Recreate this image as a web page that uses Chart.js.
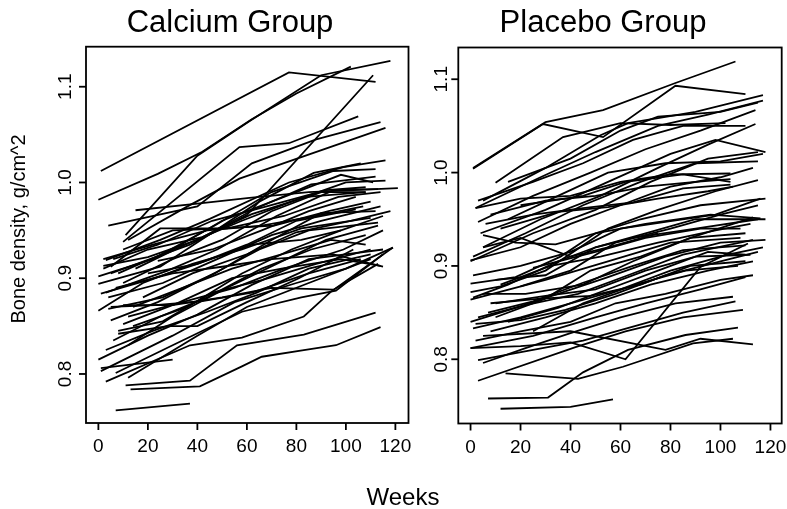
<!DOCTYPE html>
<html lang="en">
<head>
<meta charset="UTF-8" />
<title>Bone density, calcium vs placebo</title>
<script src="https://cdn.jsdelivr.net/npm/chart.js"></script>
<style>
  body { margin: 0; background: #fff; }
  #wrap { position: relative; width: 787px; height: 509px; overflow: hidden;
          font-family: "Liberation Sans", Arial, Helvetica, sans-serif; color: #000; }
  canvas { position: absolute; left: 0; top: 0; }
  .txt { position: absolute; white-space: nowrap; text-align: center; }
  .main { font-size: 31px; line-height: 31px; top: 6px; }
  #ylab { font-size: 20px; line-height: 20px; width: 300px; left: -132px; top: 219px;
          transform: rotate(-90deg); }
  #xlab { font-size: 24px; line-height: 24px; width: 200px; left: 303px; top: 485px; }
</style>
</head>
<body>
<div id="wrap">
  <canvas id="calcium" width="787" height="509"></canvas>
  <canvas id="placebo" width="787" height="509"></canvas>
  <div class="txt main" style="left:30px;width:400px">Calcium Group</div>
  <div class="txt main" style="left:403px;width:400px">Placebo Group</div>
  <div class="txt" id="ylab">Bone density, g/cm^2</div>
  <div class="txt" id="xlab">Weeks</div>
</div>

<script>
// tick labels
const weekTicks = [0, 20, 40, 60, 80, 100, 120];
const densityTicks = [0.8, 0.9, 1.0, 1.1];
const densityLabels = ["0.8", "0.9", "1.0", "1.1"];

// one row per subject: [week, bone density]
const calcium = [
  [[1,1.012],[77,1.115],[112,1.105]],
  [[0,0.982],[24,1.009],[42,1.032],[62,1.066],[80,1.093],[102,1.121]],
  [[11,0.945],[40,1.028],[61,1.064],[90,1.112],[118,1.127]],
  [[5,0.905],[37,0.935],[60,0.966],[111,1.112]],
  [[10,0.938],[57,1.037],[77,1.041],[105,1.069]],
  [[4,0.955],[40,0.975],[62,1.02],[88,1.045],[114,1.063]],
  [[15,0.971],[40,0.978],[61,0.984],[85,0.99],[121,0.994]],
  [[12,0.94],[36,0.975],[57,1.004],[116,1.057]],
  [[3,0.919],[25,0.94],[45,0.962],[77,1.0],[99,1.016],[116,1.023]],
  [[0,0.902],[22,0.92],[47,0.955],[70,0.99],[95,1.012],[112,1.014]],
  [[2,0.913],[20,0.922],[40,0.94],[63,0.972],[86,0.998],[112,1.006]],
  [[8,0.905],[30,0.93],[50,0.96],[75,0.985],[98,1.008],[111,1.0]],
  [[0,0.894],[25,0.912],[45,0.946],[65,0.98],[87,1.01],[106,1.02]],
  [[3,0.885],[28,0.908],[48,0.93],[72,0.965],[95,0.992],[113,0.993]],
  [[5,0.912],[25,0.952],[50,0.952],[71,0.955],[93,0.97],[110,0.98]],
  [[1,0.884],[20,0.898],[40,0.915],[60,0.935],[80,0.96],[104,0.972]],
  [[4,0.868],[26,0.88],[47,0.905],[70,0.94],[90,0.968],[112,0.97]],
  [[0,0.866],[18,0.895],[38,0.915],[58,0.93],[82,0.952],[110,0.963]],
  [[5,0.856],[24,0.875],[43,0.9],[65,0.93],[85,0.95],[113,0.958]],
  [[6,0.835],[25,0.86],[44,0.88],[66,0.91],[86,0.93],[108,0.945]],
  [[0,0.815],[20,0.84],[40,0.862],[62,0.893],[85,0.92],[115,0.93]],
  [[1,0.803],[30,0.84],[55,0.875],[80,0.895],[100,0.91],[119,0.932]],
  [[3,0.792],[37,0.83],[58,0.838],[83,0.86],[94,0.886],[119,0.932]],
  [[11,0.788],[37,0.793],[56,0.83],[83,0.841],[112,0.864]],
  [[13,0.784],[41,0.787],[58,0.808],[66,0.818],[83,0.825],[96,0.83],[114,0.849]],
  [[7,0.762],[37,0.769]],
  [[1,0.806],[30,0.815]],
  [[7,0.801],[30,0.83],[58,0.865],[82,0.88],[96,0.887],[115,0.925]],
  [[12,0.796],[40,0.84],[60,0.87],[85,0.895],[110,0.92]],
  [[10,0.93],[30,0.95],[52,0.952],[75,0.965],[97,0.985],[114,0.99]],
  [[2,0.91],[20,0.93],[42,0.943],[62,0.967],[84,0.985],[108,0.99]],
  [[7,0.89],[30,0.905],[50,0.912],[70,0.92],[95,0.925],[115,0.912]],
  [[10,0.872],[30,0.872],[50,0.88],[70,0.89],[95,0.888],[113,0.915]],
  [[5,0.87],[23,0.872],[42,0.876],[62,0.885],[85,0.905],[106,0.92]],
  [[12,0.86],[34,0.875],[55,0.89],[75,0.91],[99,0.93],[115,0.95]],
  [[8,0.842],[28,0.85],[40,0.85],[60,0.875],[81,0.9],[103,0.93]],
  [[3,0.825],[22,0.845],[44,0.865],[64,0.885],[85,0.91],[110,0.925]],
  [[12,0.83],[30,0.86],[52,0.89],[72,0.915],[92,0.94],[113,0.955]],
  [[14,0.85],[36,0.87],[58,0.905],[78,0.93],[98,0.95],[115,0.965]],
  [[2,0.92],[22,0.935],[44,0.95],[66,0.955],[88,0.965],[107,0.975]],
  [[10,0.895],[30,0.92],[50,0.94],[70,0.97],[90,0.99],[108,0.99]],
  [[18,0.88],[38,0.905],[60,0.925],[80,0.948],[102,0.96],[118,0.97]],
  [[6,0.92],[24,0.935],[46,0.96],[68,0.975],[92,0.992],[108,0.995]],
  [[14,0.87],[34,0.89],[54,0.91],[74,0.925],[94,0.94],[108,0.935]],
  [[24,0.918],[46,0.93],[66,0.95],[85,0.97],[104,0.985]],
  [[10,0.852],[32,0.874],[54,0.9],[74,0.91],[98,0.92],[114,0.913]],
  [[20,0.905],[40,0.915],[62,0.935],[82,0.94],[98,0.95]],
  [[8,0.845],[26,0.855],[46,0.885],[66,0.898],[88,0.915],[110,0.93]],
  [[4,0.88],[26,0.895],[48,0.92],[70,0.945],[90,0.96],[114,0.975]],
  [[15,0.91],[35,0.935],[58,0.96],[78,0.98],[100,1.0],[116,1.002]]
];

const placebo = [
  [[1,1.005],[30,1.054],[53,1.067],[82,1.096],[106,1.119]],
  [[1,1.004],[29,1.052],[53,1.038],[82,1.093],[110,1.084]],
  [[10,0.989],[37,1.038],[60,1.053],[80,1.051],[102,1.053]],
  [[5,0.97],[30,1.005],[52,1.04],[63,1.053],[90,1.065],[117,1.083]],
  [[2,0.962],[28,0.995],[50,1.022],[75,1.05],[95,1.062],[117,1.077]],
  [[3,0.947],[25,0.975],[48,1.0],[70,1.025],[92,1.045],[114,1.067]],
  [[4,0.935],[30,0.96],[55,0.99],[80,1.02],[98,1.035],[118,1.022]],
  [[5,0.92],[28,0.95],[52,0.975],[75,1.005],[95,1.03],[114,1.052]],
  [[1,0.91],[22,0.935],[45,0.965],[68,0.99],[90,1.01],[115,1.012]],
  [[0,0.905],[25,0.935],[50,0.96],[72,0.99],[95,1.015],[115,1.022]],
  [[2,0.962],[20,0.972],[40,0.975],[60,0.99],[80,0.998],[104,0.999]],
  [[8,0.955],[30,0.97],[50,0.975],[70,0.985],[90,0.99],[104,0.993]],
  [[6,0.945],[25,0.955],[45,0.962],[65,0.968],[85,0.983],[104,0.987]],
  [[12,0.94],[35,0.958],[55,0.963],[75,0.972],[95,0.98],[105,0.985]],
  [[5,0.933],[18,0.925],[34,0.923],[50,0.935],[70,0.945],[96,0.955],[116,0.951]],
  [[1,0.89],[20,0.9],[40,0.915],[60,0.94],[80,0.948],[98,0.955],[116,0.972]],
  [[0,0.881],[18,0.888],[36,0.91],[50,0.935],[68,0.95],[92,0.965],[118,0.972]],
  [[0,0.872],[12,0.878],[30,0.895],[55,0.94],[75,0.96],[98,0.98],[115,0.992]],
  [[0,0.864],[30,0.885],[55,0.905],[80,0.925],[108,0.93]],
  [[5,0.87],[22,0.87],[45,0.88],[65,0.905],[88,0.93],[113,0.952]],
  [[0,0.84],[18,0.855],[35,0.87],[55,0.888],[78,0.91],[100,0.925],[118,0.928]],
  [[1,0.833],[20,0.845],[40,0.86],[60,0.875],[80,0.895],[103,0.912],[117,0.92]],
  [[3,0.845],[22,0.858],[43,0.87],[63,0.89],[85,0.912],[113,0.928]],
  [[7,0.85],[25,0.862],[45,0.882],[65,0.9],[85,0.917],[110,0.922]],
  [[2,0.838],[20,0.842],[38,0.853],[58,0.87],[78,0.89],[100,0.905],[115,0.915]],
  [[10,0.86],[30,0.868],[50,0.875],[70,0.895],[90,0.91],[112,0.912]],
  [[0,0.812],[20,0.814],[40,0.818],[62,0.8],[92,0.899],[111,0.924]],
  [[5,0.825],[40,0.83],[78,0.81],[92,0.822],[113,0.816]],
  [[14,0.785],[43,0.779],[61,0.792],[89,0.817],[105,0.822]],
  [[3,0.777],[42,0.813],[62,0.83],[85,0.845],[109,0.853]],
  [[12,0.747],[40,0.749],[57,0.757]],
  [[7,0.758],[31,0.759],[45,0.786],[63,0.81],[86,0.826],[107,0.834]],
  [[3,0.799],[25,0.81],[45,0.82],[65,0.835],[85,0.85],[106,0.862]],
  [[5,0.796],[22,0.812],[40,0.828],[60,0.845],[82,0.86],[105,0.867]],
  [[2,0.82],[20,0.83],[40,0.84],[58,0.86],[78,0.87],[100,0.885],[113,0.89]],
  [[0,0.812],[25,0.825],[50,0.845],[70,0.86],[92,0.875],[110,0.888]],
  [[8,0.83],[30,0.845],[50,0.86],[72,0.88],[95,0.895],[113,0.905]],
  [[15,0.84],[35,0.855],[55,0.875],[75,0.895],[95,0.915],[110,0.912]],
  [[10,0.885],[30,0.89],[50,0.92],[65,0.93],[90,0.94],[115,0.95]],
  [[20,0.878],[40,0.895],[58,0.925],[80,0.94],[100,0.955],[115,0.965]],
  [[5,0.92],[20,0.93],[40,0.91],[55,0.92],[75,0.935]],
  [[1,0.866],[15,0.88],[35,0.905],[50,0.92],[70,0.935],[90,0.95],[118,0.95]],
  [[10,0.845],[30,0.865],[48,0.895],[68,0.91],[88,0.93],[110,0.935]],
  [[15,0.95],[35,0.975],[55,1.0],[78,1.01],[100,1.012],[117,1.02]],
  [[3,0.97],[25,0.99],[45,1.01],[65,1.035],[85,1.05],[110,1.05]],
  [[15,0.99],[40,1.015],[60,1.045],[75,1.06],[100,1.065],[115,1.075]],
  [[20,0.965],[45,0.975],[62,0.99],[85,0.998],[104,0.99]],
  [[25,0.898],[50,0.915],[70,0.93],[92,0.94],[108,0.94]],
  [[8,0.86],[28,0.865],[48,0.868],[68,0.88],[88,0.9],[110,0.905]],
  [[12,0.88],[32,0.9],[52,0.91],[75,0.925],[98,0.938],[112,0.945]],
  [[0,0.906],[20,0.92],[40,0.945],[60,0.965],[80,0.985],[100,0.995],[113,1.005]],
  [[25,0.83],[45,0.86],[66,0.88],[86,0.895],[107,0.9]]
];

// draws the box, tick marks and rotated tick labels (R style)
const frameAxes = {
  id: "frameAxes",
  afterDraw(chart, args, opts) {
    const { ctx, chartArea: a } = chart;
    const x = chart.scales.x, y = chart.scales.y;
    ctx.save();
    ctx.strokeStyle = "#000";
    ctx.fillStyle = "#000";
    ctx.lineWidth = 1.8;
    ctx.strokeRect(a.left, a.top, a.right - a.left, a.bottom - a.top);
    ctx.font = '19px "Liberation Sans", Arial, sans-serif';
    ctx.textAlign = "center";
    ctx.textBaseline = "middle";
    weekTicks.forEach((t) => {
      const px = x.getPixelForValue(t);
      ctx.beginPath();
      ctx.moveTo(px, a.bottom);
      ctx.lineTo(px, a.bottom + 7);
      ctx.stroke();
      ctx.fillText(String(t), px, a.bottom + 24);
    });
    densityTicks.forEach((t, i) => {
      const py = y.getPixelForValue(t);
      ctx.beginPath();
      ctx.moveTo(a.left, py);
      ctx.lineTo(a.left - 7, py);
      ctx.stroke();
      ctx.save();
      ctx.translate(a.left - opts.gap, py);
      ctx.rotate(-Math.PI / 2);
      ctx.fillText(densityLabels[i], 0, 0);
      ctx.restore();
    });
    ctx.restore();
  },
};

function makePanel(id, subjects, pad, xr, yr, gap) {
  const datasets = subjects.map((s) => ({
    data: s.map(([w, v]) => ({ x: w, y: v })),
    borderColor: "#000",
    borderWidth: 1.8,
    pointRadius: 0,
    tension: 0,
    fill: false,
  }));
  return new Chart(document.getElementById(id), {
    type: "line",
    data: { datasets },
    options: {
      responsive: false,
      devicePixelRatio: 1,
      animation: false,
      layout: { padding: pad },
      plugins: { legend: { display: false }, tooltip: { enabled: false }, frameAxes: { gap } },
      scales: {
        x: { type: "linear", min: xr[0], max: xr[1], display: false },
        y: { type: "linear", min: yr[0], max: yr[1], display: false },
      },
    },
    plugins: [frameAxes],
  });
}

makePanel("calcium", calcium, { left: 86, top: 46.7, right: 787 - 408.5, bottom: 509 - 423 },
  [-5, 125.3], [0.7488, 1.1418], 20.5);
makePanel("placebo", placebo, { left: 458.3, top: 47.5, right: 787 - 781.7, bottom: 509 - 423.5 },
  [-4.9, 124.5], [0.7312, 1.134], 16.5);
</script>
</body>
</html>
